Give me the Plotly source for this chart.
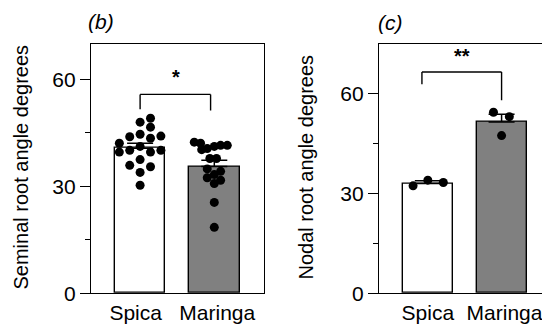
import plotly.graph_objects as go

# ---------------- data ----------------
categories = ["Spica", "Maringa"]

# panel (b) seminal root angle (degrees)
seminal_means = [40.7, 35.6]
seminal_sem = [1.4, 1.7]
seminal_spica = [49.1, 48.0, 46.6, 43.9, 44.6, 43.5, 44.1, 42.1, 39.6, 40.1,
                 41.2, 39.6, 40.1, 35.9, 37.5, 35.5, 33.9, 30.3]
seminal_spica_jitter = [0.14, 0.0, 0.14, -0.14, 0.0, 0.14, 0.28, -0.28, -0.28, -0.14,
                        0.0, 0.14, 0.28, -0.14, 0.0, 0.14, 0.0, 0.0]
seminal_maringa = [42.4, 42.1, 40.3, 40.6, 41.2, 41.5, 41.5, 37.8, 37.8, 34.9,
                   34.2, 33.3, 32.4, 31.7, 30.8, 25.5, 18.5]
seminal_maringa_jitter = [-0.27, -0.185, -0.17, -0.095, 0.0, 0.085, 0.175, -0.06, 0.03, -0.095,
                          0.085, 0.0, -0.095, 0.085, 0.0, 0.0, 0.0]

# panel (c) nodal root angle (degrees)
nodal_means = [33.0, 51.5]
nodal_sem = [0.8, 2.3]
nodal_spica = [32.3, 34.0, 33.3]
nodal_spica_jitter = [-0.2, 0.0, 0.21]
nodal_maringa = [54.4, 53.1, 47.4]
nodal_maringa_jitter = [-0.11, 0.105, 0.0]

y_ticks = [0, 30, 60]
y_minor = [15, 45]

FONT = "Liberation Sans, Arial, Helvetica, sans-serif"
BAR_COLORS = ["white", "#808080"]

fig = go.Figure()

def add_panel(xa, ya, means, sem, pts_a, jit_a, pts_b, jit_b):
    fig.add_trace(go.Bar(
        x=[0, 1], y=means, width=0.68,
        marker=dict(color=BAR_COLORS, line=dict(color="black", width=1.4)),
        error_y=dict(type="data", array=sem, arrayminus=[0, 0], symmetric=False,
                     color="black", thickness=1.5, width=13),
        xaxis=xa, yaxis=ya, showlegend=False, hoverinfo="skip"))
    fig.add_trace(go.Scatter(
        x=[0 + j for j in jit_a] + [1 + j for j in jit_b],
        y=pts_a + pts_b, mode="markers",
        marker=dict(color="black", size=9, line=dict(width=0)),
        xaxis=xa, yaxis=ya, showlegend=False, hoverinfo="skip"))

add_panel("x", "y", seminal_means, seminal_sem,
          seminal_spica, seminal_spica_jitter, seminal_maringa, seminal_maringa_jitter)
add_panel("x2", "y2", nodal_means, nodal_sem,
          nodal_spica, nodal_spica_jitter, nodal_maringa, nodal_maringa_jitter)

W, H = 550, 333
ydom = [1 - 295 / H, 1 - 37 / H]

def xaxis_cfg(dom, tickpos):
    return dict(domain=dom, range=[-0.662, 1.67], showgrid=False, zeroline=False,
                showline=True, linecolor="black", linewidth=1.4, mirror=True,
                tickmode="array", tickvals=tickpos, ticktext=categories, ticks="",
                tickfont=dict(family=FONT, size=21, color="black"), fixedrange=True)

def yaxis_cfg(anchor, top):
    return dict(anchor=anchor, domain=ydom, range=[0, top], showgrid=False, zeroline=False,
                showline=True, linecolor="black", linewidth=1.4, mirror=True,
                tickmode="array", tickvals=y_ticks, ticks="outside", ticklen=10,
                tickwidth=1.4, tickcolor="black",
                minor=dict(tickmode="array", tickvals=y_minor, ticks="outside", ticklen=5,
                           tickwidth=1.4, tickcolor="black"),
                tickfont=dict(family=FONT, size=21, color="black"), fixedrange=True)

fig.update_layout(
    width=W, height=H, margin=dict(l=0, r=0, t=0, b=0),
    paper_bgcolor="white", plot_bgcolor="white", bargap=0,
    xaxis=xaxis_cfg([83 / W, 256 / W], [-0.06, 1.04]) | dict(anchor="y"),
    yaxis=yaxis_cfg("x", 70),
    xaxis2=xaxis_cfg([371 / W, 543 / W], [0.0, 1.04]) | dict(anchor="y2"),
    yaxis2=yaxis_cfg("x2", 75),
    font=dict(family=FONT, color="black"),
)

# significance brackets
line = dict(color="black", width=1.4)
fig.add_shape(type="line", xref="x", yref="y", x0=0, x1=0, y0=51.6, y1=55.8, line=line)
fig.add_shape(type="line", xref="x", yref="y", x0=0, x1=0.95, y0=55.8, y1=55.8, line=line)
fig.add_shape(type="line", xref="x", yref="y", x0=0.95, x1=0.95, y0=51.3, y1=55.8, line=line)
fig.add_shape(type="line", xref="x2", yref="y2", x0=-0.08, x1=-0.08, y0=62.8, y1=66.5, line=line)
fig.add_shape(type="line", xref="x2", yref="y2", x0=-0.08, x1=1.0, y0=66.5, y1=66.5, line=line)
fig.add_shape(type="line", xref="x2", yref="y2", x0=1.0, x1=1.0, y0=58.0, y1=66.5, line=line)

fig.add_annotation(xref="x", yref="y", x=0.49, y=57.0, text="<b>*</b>", showarrow=False,
                   yanchor="bottom", font=dict(family=FONT, size=20, color="black"))
fig.add_annotation(xref="x2", yref="y2", x=0.46, y=67.3, text="<b>**</b>", showarrow=False,
                   yanchor="bottom", font=dict(family=FONT, size=20, color="black"))

# panel letters
fig.add_annotation(xref="paper", yref="paper", x=93 / W, y=1 - 14 / H, text="<i>(b)</i>",
                   showarrow=False, xanchor="center", yanchor="middle",
                   font=dict(family=FONT, size=21, color="black"))
fig.add_annotation(xref="paper", yref="paper", x=382 / W, y=1 - 15 / H, text="<i>(c)</i>",
                   showarrow=False, xanchor="center", yanchor="middle",
                   font=dict(family=FONT, size=21, color="black"))

# y-axis titles
fig.add_annotation(xref="paper", yref="paper", x=13 / W, y=1 - 165 / H,
                   text="Seminal root angle degrees", textangle=-90, showarrow=False,
                   xanchor="center", yanchor="middle",
                   font=dict(family=FONT, size=20, color="black"))
fig.add_annotation(xref="paper", yref="paper", x=298 / W, y=1 - 165 / H,
                   text="Nodal root angle degrees", textangle=-90, showarrow=False,
                   xanchor="center", yanchor="middle",
                   font=dict(family=FONT, size=20, color="black"))

fig.write_html("out.html")
